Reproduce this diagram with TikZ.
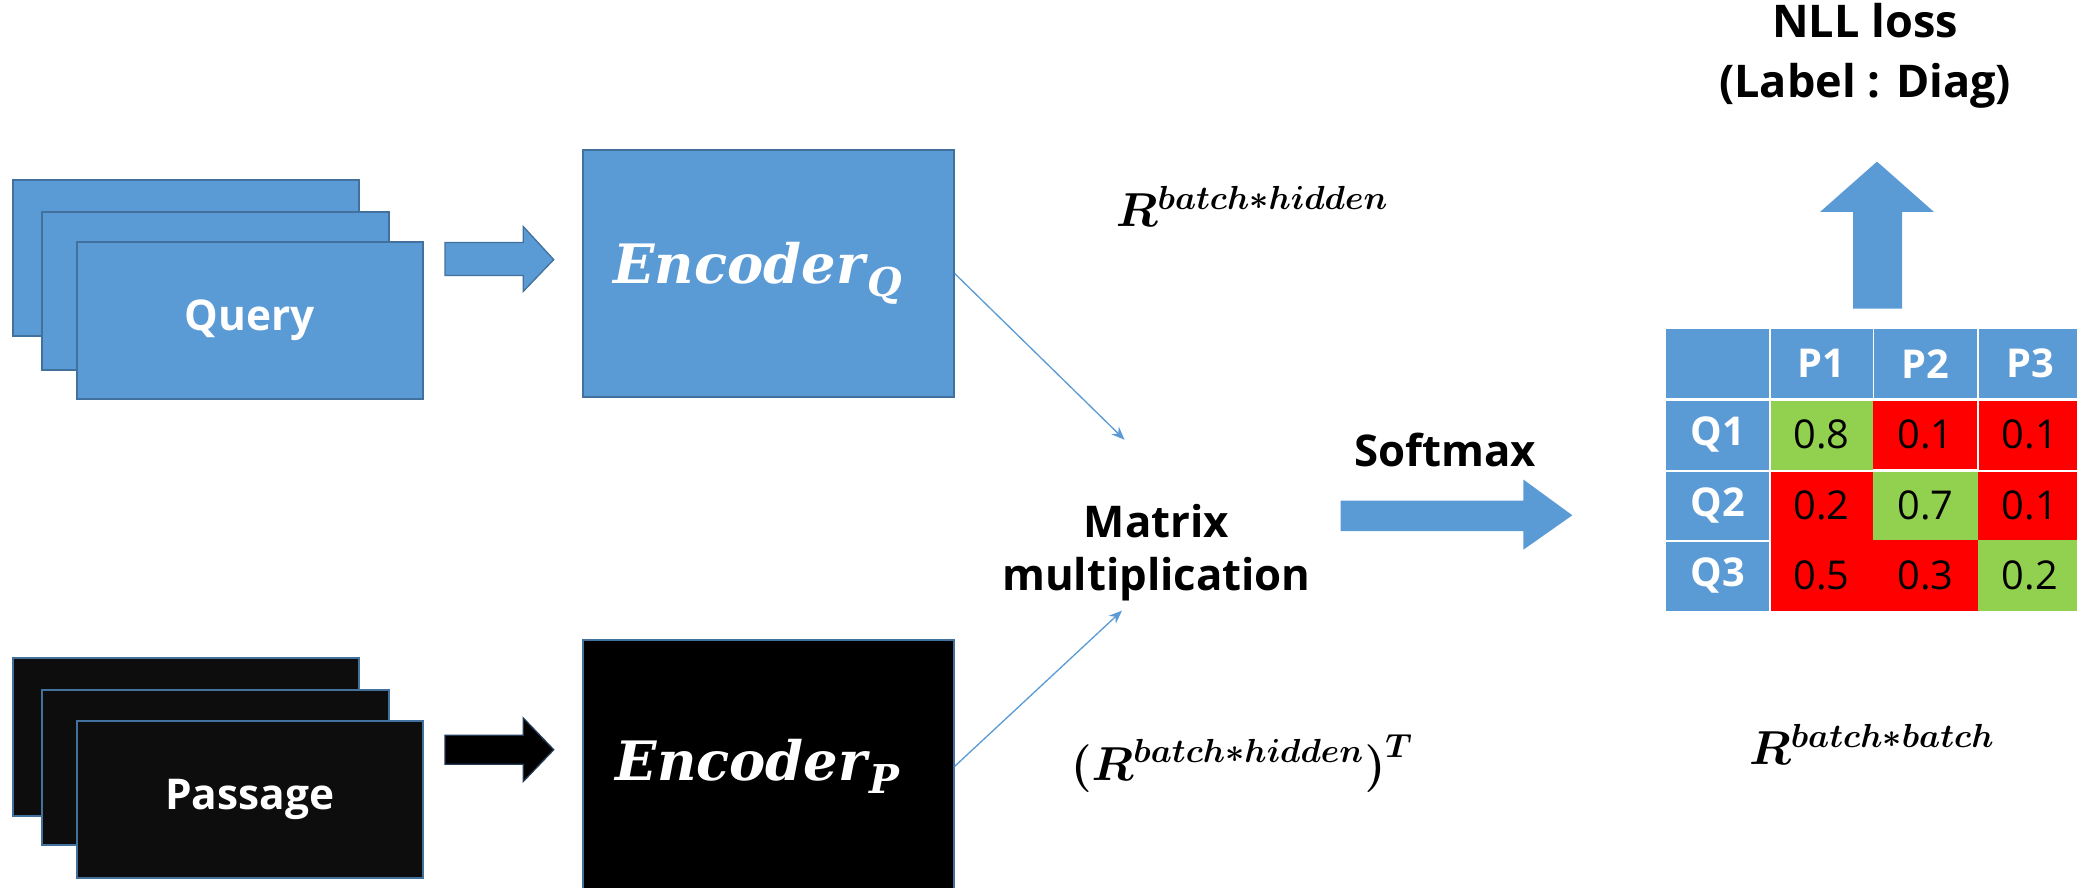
\RequirePackage{fix-cm}
\documentclass[tikz,border=0pt]{standalone}
\usepackage{bm}
\usepackage{fontspec}
\setsansfont{Open Sans}
\newfontfamily\encfont{DejaVu Serif}
\usetikzlibrary{arrows.meta}
\definecolor{pblue}{HTML}{5B9BD5}
\definecolor{pedge}{HTML}{41719C}
\definecolor{pgreen}{HTML}{92D050}
\definecolor{pred}{HTML}{FF0000}
\definecolor{pdark}{HTML}{0D0D0D}
\definecolor{pnavy}{HTML}{223A54}
% box node given by its corners: name, x1, y1, x2, y2, style, text
\newcommand\boxat[7]{%
  \node[#6, inner sep=0pt, minimum width={(#4-#2)*0.5pt}, minimum height={(#5-#3)*0.5pt}]
    (#1) at ({(#2+#4)/2},{(#3+#5)/2}) {#7};}
% encoder name with its subscript
\newcommand\encname[1]{\raisebox{-4pt}{\encfont\bfseries\itshape Encoder\kern1pt\raisebox{-5pt}{\fontsize{15}{15}\selectfont #1}}\hspace*{8pt}}
\begin{document}
\begin{tikzpicture}[x=0.5pt,y=-0.5pt,
  qcard/.style={draw=pedge, fill=pblue, line width=0.75pt},
  pcard/.style={draw=pedge, fill=pdark, line width=0.75pt},
  cardtext/.style={text=white, font=\sffamily\bfseries\fontsize{16}{19}\selectfont},
  enctext/.style={text=white, font=\fontsize{20.5}{24}\selectfont},
  captxt/.style={font=\sffamily\bfseries\fontsize{16.5}{20}\selectfont, align=center, inner sep=0pt},
  mathtxt/.style={font=\fontsize{18}{20}\selectfont, inner sep=0pt},
  thinarrow/.style={draw=pblue, line width=0.5pt, -{Stealth[length=5pt,width=4pt]}},
  hdcell/.style={fill=pblue, text=white, font=\sffamily\bfseries\fontsize{15}{18}\selectfont},
  valcell/.style={text=black, font=\sffamily\fontsize{15}{18}\selectfont},
  rule/.style={draw=white, line width=0.6pt}]
\useasboundingbox (0,0) rectangle (1568,670);

% query stack
\boxat{qc3}{10}{136}{271}{254}{qcard}{}
\boxat{qc2}{32}{160}{294}{279}{qcard}{}
\boxat{qc1}{58}{183}{319}{301}{qcard,cardtext}{Query}
% passage stack
\boxat{pc3}{10}{497}{271}{616}{pcard}{}
\boxat{pc2}{32}{521}{294}{638}{pcard}{}
\boxat{pc1}{58}{544}{319}{663}{pcard,cardtext}{Passage}

% encoders
\boxat{encq}{440}{113}{720}{300}{qcard,enctext}{\encname{Q}}
\boxat{encp}{440}{483}{720}{674}{pcard,fill=black,enctext}{\encname{P}}

% block arrows into the encoders
\filldraw[fill=pblue, draw=pedge, line width=0.5pt]
  (336,183) -- (395,183) -- (395,171) -- (418,196) -- (395,220) -- (395,208) -- (336,208) -- cycle;
\filldraw[fill=black, draw=pnavy, line width=0.5pt]
  (336,555) -- (395,555) -- (395,542) -- (418,566) -- (395,590) -- (395,577) -- (336,577) -- cycle;

% dimension labels
\node[mathtxt, anchor=base west] (rq) at (842,171) {$\bm{R}^{\bm{batch\ast hidden}}$};
\node[mathtxt, anchor=base west] (rp) at (808,589) {$\bm{(R}^{\bm{batch\ast hidden}}\bm{)}^{\bm{T}}$};

% matrix product
\node[captxt] (mm) at (873,417) {Matrix\\multiplication};
\coordinate (mmin1) at (849,332);
\coordinate (mmin2) at (847,461);
\draw[thinarrow] (encq.east) -- (mmin1);
\draw[thinarrow] (encp.east) -- (mmin2);

% softmax
\node[captxt] (sm) at (1091,340) {Softmax};
\fill[pblue] (1012,378) -- (1150,378) -- (1150,362) -- (1187,389) -- (1150,415) -- (1150,401) -- (1012,401) -- cycle;

% similarity table
\boxat{h0}{1258}{248}{1336}{301}{hdcell}{}
\boxat{h1}{1336}{248}{1414}{301}{hdcell}{P1}
\boxat{h2}{1414}{248}{1493}{301}{hdcell}{P2}
\boxat{h3}{1493}{248}{1572}{301}{hdcell}{P3}
\boxat{q1}{1258}{301}{1336}{355}{hdcell}{Q1}
\boxat{q2}{1258}{355}{1336}{408}{hdcell}{Q2}
\boxat{q3}{1258}{408}{1336}{461}{hdcell}{Q3}
\boxat{c11}{1336}{301}{1414}{355}{valcell,fill=pgreen}{0.8}
\boxat{c12}{1414}{301}{1493}{355}{valcell,fill=pred}{0.1}
\boxat{c13}{1493}{301}{1572}{355}{valcell,fill=pred}{0.1}
\boxat{c21}{1336}{355}{1414}{408}{valcell,fill=pred}{0.2}
\boxat{c22}{1414}{355}{1493}{408}{valcell,fill=pgreen}{0.7}
\boxat{c23}{1493}{355}{1572}{408}{valcell,fill=pred}{0.1}
\boxat{c31}{1336}{408}{1414}{461}{valcell,fill=pred}{0.5}
\boxat{c32}{1414}{408}{1493}{461}{valcell,fill=pred}{0.3}
\boxat{c33}{1493}{408}{1572}{461}{valcell,fill=pgreen}{0.2}
% cell rules
\draw[rule, line width=1.2pt] (h0.south west) -- (h3.south east);
\draw[rule] (h0.north east) -- (q3.south east);
\draw[rule] (h1.north east) -- (h1.south east);
\draw[rule] (h2.north east) -- (h2.south east);
\draw[rule] (q1.south west) -- (c13.south east);
\draw[rule] (q2.south west) -- (q2.south east);
\draw[rule] (c12.north east) -- (c12.south east);
\draw[rule] (c22.north west) -- (c22.north east);

\node[mathtxt, anchor=base west] (rb) at (1320,577) {$\bm{R}^{\bm{batch\ast batch}}$};

% loss
\fill[pblue] (1399,233) -- (1399,160) -- (1374,160) -- (1417,122) -- (1460,160) -- (1436,160) -- (1436,233) -- cycle;
\node[captxt, font=\sffamily\bfseries\fontsize{17}{22.5}\selectfont] (nll) at (1408,42) {NLL loss\\(Label : Diag)};
\end{tikzpicture}
\end{document}
